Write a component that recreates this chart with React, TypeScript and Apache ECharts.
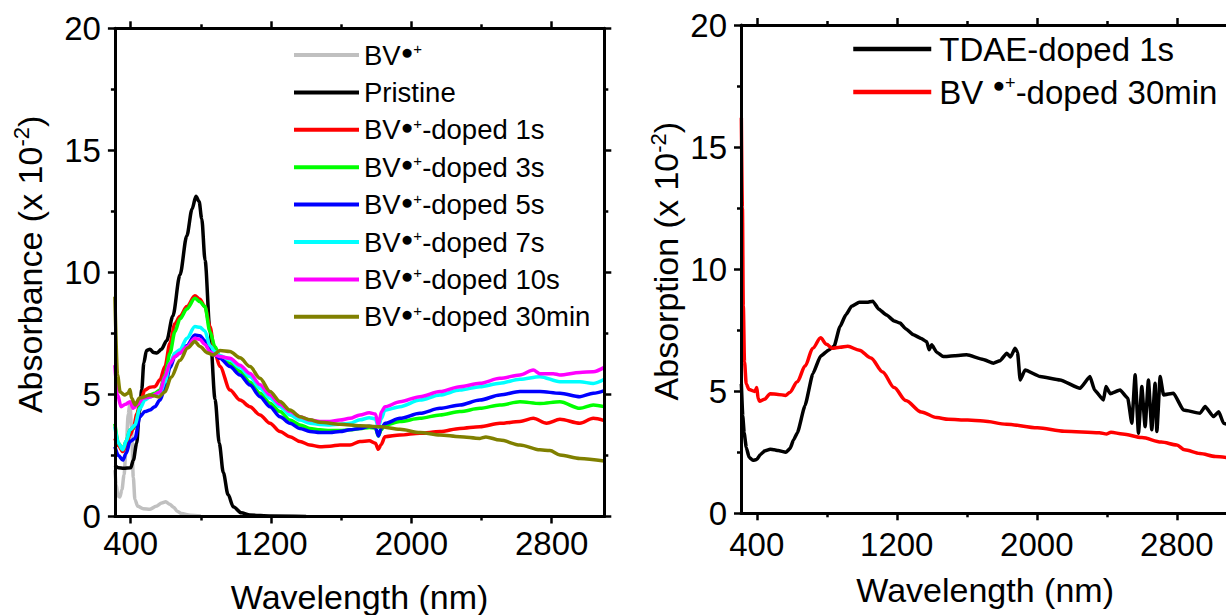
import React, { useEffect, useRef } from "react";
import * as echarts from "echarts";

const FONT = "'Liberation Sans', Arial, Helvetica, sans-serif";

const X_MIN = 310;
const X_MAX = 3100;
const xMajorTicks = [400, 1200, 2000, 2800];
const xMinorTicks = [800, 1600, 2400];
const Y_MIN = 0;
const Y_MAX = 20;
const Y_INTERVAL = 5;

const xTitle = "Wavelength (nm)";
const leftYTitle = "{t|Absorbance (x 10}{s|-2}{t|)}";
const rightYTitle = "{t|Absorption (x 10}{s|-2}{t|)}";

type P = [number, number];

// ---------- Left panel ----------
const bvRadical: P[] = [
  [310, 1.9], [318, 1.3], [326, 0.85], [338, 0.8], [350, 1.1], [362, 1.7], [374, 2.8], [386, 4.2],
  [396, 4.65], [405, 3.6], [415, 1.6], [424, 0.7], [440, 0.42], [472, 0.32], [510, 0.3], [545, 0.42],
  [577, 0.55], [600, 0.6], [622, 0.5], [645, 0.38], [665, 0.22], [690, 0.12], [740, 0.05], [800, 0.02],
];

const pristine: P[] = [
  [310, 2.1], [330, 2.0], [360, 1.98], [400, 2.0], [415, 2.3], [434, 3.0], [450, 4.3], [463, 5.2],
  [475, 6.3], [490, 6.8], [510, 6.85], [530, 6.72], [550, 6.7], [575, 6.85], [605, 7.2], [640, 8.2],
  [681, 9.9], [720, 11.5], [750, 12.6], [772, 13.12], [790, 12.9], [805, 12.2], [824, 10.5], [852, 7.6],
  [881, 4.8], [905, 3.0], [928, 1.8], [955, 0.9], [985, 0.4], [1030, 0.15], [1080, 0.06], [1200, 0.02],
  [1400, 0],
];

const doped1s: P[] = [
  [310, 3.2], [330, 2.9], [355, 2.66], [375, 2.9], [396, 3.34], [415, 3.6], [435, 4.2], [453, 4.64],
  [481, 5.18], [510, 5.3], [538, 5.32], [567, 5.6], [595, 6.14], [624, 7.1], [652, 7.9], [681, 8.2],
  [720, 8.6], [766, 9.04], [795, 8.9], [823, 8.6], [852, 7.78], [880, 6.69], [909, 6.14], [966, 5.18],
  [1023, 4.77], [1080, 4.5], [1137, 4.16], [1194, 3.82], [1251, 3.48], [1308, 3.27], [1365, 3.07],
  [1422, 2.93], [1479, 2.86], [1536, 2.88], [1593, 2.93], [1650, 2.93], [1707, 3.07], [1760, 3.1],
  [1795, 3.0], [1812, 2.75], [1828, 2.95], [1850, 3.27], [1935, 3.34], [2049, 3.41], [2163, 3.48],
  [2277, 3.61], [2391, 3.68], [2505, 3.82], [2619, 3.89], [2695, 4.02], [2771, 3.82], [2847, 3.98],
  [2961, 3.82], [3037, 4.02], [3100, 3.93],
];

const doped3s: P[] = [
  [310, 3.8], [330, 3.0], [355, 2.75], [375, 3.1], [396, 3.55], [424, 3.7], [453, 4.5], [481, 4.9],
  [510, 4.98], [538, 5.05], [567, 5.18], [595, 5.8], [624, 6.69], [652, 7.57], [681, 8.1], [720, 8.5],
  [766, 8.94], [795, 8.8], [823, 8.6], [852, 7.57], [880, 6.96], [909, 6.55], [966, 6.27], [1023, 5.95],
  [1080, 5.5], [1137, 5.05], [1194, 4.64], [1251, 4.3], [1308, 3.95], [1365, 3.75], [1422, 3.61],
  [1479, 3.55], [1536, 3.52], [1593, 3.52], [1650, 3.55], [1707, 3.6], [1760, 3.65], [1795, 3.62],
  [1812, 3.3], [1828, 3.55], [1850, 3.75], [1935, 3.89], [2049, 4.02], [2163, 4.16], [2277, 4.3],
  [2391, 4.43], [2505, 4.57], [2619, 4.7], [2733, 4.63], [2847, 4.7], [2961, 4.43], [3037, 4.57],
  [3100, 4.5],
];

const doped5s: P[] = [
  [310, 2.86], [330, 2.5], [355, 2.31], [375, 2.6], [396, 3.07], [424, 3.2], [453, 4.09], [481, 4.3],
  [510, 4.36], [538, 4.5], [567, 4.77], [595, 5.25], [624, 6.1], [652, 6.55], [681, 6.7], [720, 7.0],
  [766, 7.44], [795, 7.4], [823, 7.2], [852, 6.8], [880, 6.62], [909, 6.48], [966, 6.14], [1023, 5.8],
  [1080, 5.39], [1137, 4.91], [1194, 4.5], [1251, 4.09], [1308, 3.82], [1365, 3.61], [1422, 3.48],
  [1479, 3.44], [1536, 3.44], [1593, 3.48], [1650, 3.55], [1707, 3.61], [1760, 3.7], [1795, 3.65],
  [1812, 3.3], [1828, 3.6], [1850, 3.82], [1935, 4.02], [2049, 4.23], [2163, 4.43], [2277, 4.57],
  [2391, 4.77], [2505, 4.98], [2619, 5.12], [2733, 5.12], [2847, 5.05], [2961, 4.91], [3037, 5.05],
  [3100, 5.16],
];

const doped7s: P[] = [
  [310, 3.68], [330, 3.0], [355, 2.73], [375, 3.1], [396, 3.55], [424, 3.75], [453, 4.43], [481, 4.77],
  [510, 4.9], [538, 4.98], [567, 5.05], [595, 5.5], [624, 6.27], [652, 6.7], [681, 6.83], [720, 7.3],
  [766, 7.78], [795, 7.75], [823, 7.6], [852, 7.0], [880, 6.75], [909, 6.6], [966, 6.41], [1023, 6.1],
  [1080, 5.73], [1137, 5.25], [1194, 4.84], [1251, 4.5], [1308, 4.16], [1365, 3.95], [1422, 3.82],
  [1479, 3.77], [1536, 3.75], [1593, 3.78], [1650, 3.82], [1707, 3.96], [1760, 4.05], [1795, 4.0],
  [1812, 3.65], [1828, 4.0], [1850, 4.36], [1935, 4.5], [2049, 4.77], [2163, 4.98], [2277, 5.18],
  [2391, 5.32], [2505, 5.46], [2619, 5.62], [2733, 5.73], [2847, 5.52], [2961, 5.52], [3037, 5.45],
  [3100, 5.62],
];

const doped10s: P[] = [
  [310, 6.2], [325, 5.0], [345, 4.5], [370, 4.6], [396, 4.7], [415, 4.43], [440, 4.6], [470, 4.85],
  [510, 4.9], [567, 5.1], [595, 5.73], [624, 6.27], [652, 6.55], [681, 6.7], [720, 6.95], [766, 7.3],
  [795, 7.25], [823, 7.05], [852, 6.75], [880, 6.62], [909, 6.55], [966, 6.48], [1023, 6.2], [1080, 5.86],
  [1137, 5.4], [1194, 4.98], [1251, 4.6], [1308, 4.3], [1365, 4.09], [1422, 3.95], [1479, 3.89],
  [1536, 3.89], [1593, 3.95], [1650, 4.02], [1707, 4.16], [1760, 4.25], [1795, 4.2], [1812, 3.75],
  [1830, 4.3], [1850, 4.5], [1935, 4.7], [2049, 4.91], [2163, 5.12], [2277, 5.32], [2391, 5.46],
  [2505, 5.66], [2619, 5.8], [2695, 6.0], [2733, 5.85], [2809, 5.85], [2847, 5.8], [2961, 5.9],
  [3037, 5.93], [3100, 6.11],
];

const doped30min: P[] = [
  [310, 9.0], [325, 5.8], [340, 5.1], [365, 4.98], [385, 5.05], [396, 5.2], [405, 4.85], [425, 4.57],
  [450, 4.85], [510, 4.98], [560, 4.9], [595, 5.1], [630, 5.7], [681, 6.4], [725, 6.9], [766, 7.17],
  [795, 6.96], [840, 6.7], [870, 6.62], [909, 6.8], [966, 6.76], [1023, 6.5], [1080, 6.14], [1137, 5.66],
  [1194, 5.12], [1251, 4.71], [1308, 4.36], [1365, 4.09], [1422, 3.96], [1479, 3.86], [1593, 3.78],
  [1707, 3.72], [1821, 3.68], [1935, 3.57], [2049, 3.44], [2163, 3.34], [2277, 3.27], [2391, 3.2],
  [2425, 3.26], [2505, 3.13], [2619, 2.93], [2733, 2.73], [2790, 2.7], [2847, 2.52], [2961, 2.38],
  [3100, 2.27],
];

// ---------- Right panel ----------
const tdae1s: P[] = [
  [312, 5.3], [320, 4.0], [328, 3.3], [340, 2.7], [356, 2.3], [378, 2.17], [400, 2.2], [420, 2.4],
  [444, 2.55], [477, 2.62], [500, 2.6], [522, 2.57], [566, 2.5], [590, 2.65], [610, 3.0], [632, 3.3],
  [676, 4.42], [720, 5.71], [765, 6.44], [810, 6.68], [842, 6.84], [875, 7.64], [909, 8.13], [942, 8.48],
  [986, 8.64], [1030, 8.64], [1063, 8.69], [1096, 8.37], [1140, 8.13], [1185, 7.88], [1219, 7.79],
  [1251, 7.56], [1295, 7.31], [1340, 7.16], [1371, 7.03], [1385, 6.7], [1400, 6.9], [1428, 6.6],
  [1466, 6.42], [1530, 6.45], [1600, 6.49], [1694, 6.3], [1752, 6.15], [1790, 6.25], [1829, 6.56],
  [1850, 6.4], [1876, 6.76], [1890, 6.6], [1905, 5.46], [1933, 5.87], [2019, 5.6], [2133, 5.46],
  [2247, 5.12], [2304, 5.6], [2330, 5.05], [2381, 4.64], [2395, 5.19], [2420, 4.9], [2476, 5.05],
  [2520, 4.71], [2543, 3.69], [2562, 5.67], [2581, 3.28], [2600, 5.19], [2619, 3.55], [2638, 5.46],
  [2657, 3.42], [2676, 5.33], [2686, 3.35], [2705, 5.6], [2724, 4.85], [2781, 4.92], [2838, 4.23],
  [2933, 4.1], [2962, 4.37], [3009, 3.96], [3040, 4.16], [3067, 3.69], [3100, 3.6],
];

const bvDoped30minR: P[] = [
  [312, 16.2], [318, 12.5], [323, 8.5], [330, 6.2], [340, 5.3], [356, 5.07], [389, 4.99], [400, 5.15],
  [408, 4.7], [416, 4.59], [444, 4.67], [477, 4.9], [522, 4.87], [566, 4.83], [588, 4.95], [632, 5.39],
  [676, 6.03], [720, 6.76], [765, 7.19], [798, 6.92], [831, 6.76], [875, 6.8], [920, 6.84], [986, 6.68],
  [1052, 6.36], [1119, 5.79], [1185, 5.15], [1251, 4.62], [1340, 4.15], [1428, 3.92], [1495, 3.85],
  [1605, 3.82], [1694, 3.78], [1827, 3.65], [2004, 3.5], [2158, 3.36], [2357, 3.3], [2400, 3.25],
  [2424, 3.32], [2490, 3.25], [2601, 3.1], [2711, 2.92], [2800, 2.8], [2844, 2.6], [2932, 2.45],
  [3021, 2.33], [3100, 2.27],
];

const leftNames = [
  "BV●+", "Pristine", "BV●+-doped 1s", "BV●+-doped 3s", "BV●+-doped 5s",
  "BV●+-doped 7s", "BV●+-doped 10s", "BV●+-doped 30min",
];
const leftColors = ["#c0c0c0", "#000000", "#ff0000", "#00ff00", "#0000ff", "#00ffff", "#ff00ff", "#808000"];
const leftData = [bvRadical, pristine, doped1s, doped3s, doped5s, doped7s, doped10s, doped30min];

const rightNames = ["TDAE-doped 1s", "BV ●+-doped 30min"];
const rightColors = ["#000000", "#ff0000"];
const rightData = [tdae1s, bvDoped30minR];

const legendFormatter = (name: string) => {
  const i = name.indexOf("●+");
  if (i < 0) return `{t|${name}}`;
  return `{t|${name.slice(0, i)}}{b|●}{p|+}{t|${name.slice(i + 2)}}`;
};

function buildOption() {
  const grids = [
    { left: 114.9, top: 28.3, width: 489.4, height: 488.2, outerBoundsMode: "none", containLabel: false },
    { left: 741, top: 25, width: 488.3, height: 488.3, outerBoundsMode: "none", containLabel: false },
  ];
  const axisLineStyle = { color: "#000", width: 3 };
  const tickLine = { color: "#000", width: 2.5 };
  const xLabelMargins = [10.5, 14.5];
  const xNameGaps = [63, 60];
  const yNameGaps = [66, 56];
  const yTitles = [leftYTitle, rightYTitle];

  const xAxis: any[] = [];
  const yAxis: any[] = [];
  for (let g = 0; g < 2; g++) {
    const base = {
      type: "value", gridIndex: g, min: X_MIN, max: X_MAX,
      splitLine: { show: false },
    };
    xAxis.push({
      ...base, position: "bottom",
      axisLine: { show: true, onZero: false, lineStyle: axisLineStyle },
      axisTick: { show: true, inside: false, length: 7, customValues: xMajorTicks, lineStyle: tickLine },
      axisLabel: {
        show: true, customValues: xMajorTicks, margin: xLabelMargins[g],
        color: "#000", fontSize: 33, fontFamily: FONT,
        formatter: (v: number) => String(v),
      },
      name: xTitle, nameLocation: "middle", nameGap: xNameGaps[g],
      nameTextStyle: { color: "#000", fontSize: 34, fontFamily: FONT, lineHeight: 34 },
      z: 5,
    });
    xAxis.push({
      ...base, position: "bottom",
      axisLine: { show: false, onZero: false },
      axisTick: { show: true, inside: false, length: 4, customValues: xMinorTicks, lineStyle: tickLine },
      axisLabel: { show: false },
    });
    xAxis.push({
      ...base, position: "top",
      axisLine: { show: true, onZero: false, lineStyle: axisLineStyle },
      axisTick: { show: true, inside: false, length: 7, customValues: xMajorTicks, lineStyle: tickLine },
      axisLabel: { show: false },
      z: 5,
    });
    xAxis.push({
      ...base, position: "top",
      axisLine: { show: false, onZero: false },
      axisTick: { show: true, inside: false, length: 4, customValues: xMinorTicks, lineStyle: tickLine },
      axisLabel: { show: false },
    });

    const ybase = {
      type: "value", gridIndex: g, min: Y_MIN, max: Y_MAX, interval: Y_INTERVAL,
      splitLine: { show: false },
      minorSplitLine: { show: false },
      axisTick: { show: true, inside: false, length: 7, lineStyle: tickLine },
      minorTick: { show: true, splitNumber: 2, length: 4, lineStyle: tickLine },
      axisLine: { show: true, onZero: false, lineStyle: axisLineStyle },
      z: 5,
    };
    yAxis.push({
      ...ybase, position: "left",
      axisLabel: { show: true, margin: 14, color: "#000", fontSize: 33, fontFamily: FONT },
      name: yTitles[g], nameLocation: "middle", nameGap: yNameGaps[g],
      nameTextStyle: {
        color: "#000", fontSize: 34, fontFamily: FONT, padding: [0, 0, 0, 16],
        rich: {
          t: { fontSize: 34, fontFamily: FONT, color: "#000", lineHeight: 38 },
          s: { fontSize: 22, fontFamily: FONT, color: "#000", lineHeight: 22, verticalAlign: "top" },
        },
      },
    });
    yAxis.push({
      ...ybase, position: "right",
      axisLabel: { show: false },
    });
  }

  const series: any[] = [];
  leftNames.forEach((name, i) => {
    series.push({
      type: "line", name, data: leftData[i], xAxisIndex: 0, yAxisIndex: 0,
      symbol: "none", showSymbol: false, smooth: 0.3, smoothMonotone: "x",
      lineStyle: { color: leftColors[i], width: 3.5 }, itemStyle: { color: leftColors[i] },
      z: 2,
    });
  });
  rightNames.forEach((name, i) => {
    series.push({
      type: "line", name, data: rightData[i], xAxisIndex: 4, yAxisIndex: 2,
      symbol: "none", showSymbol: false, smooth: i === 0 ? 0.15 : 0.3, smoothMonotone: "x",
      lineStyle: { color: rightColors[i], width: 3.5 }, itemStyle: { color: rightColors[i] },
      z: 2,
    });
  });

  const legend = [
    {
      data: leftNames, orient: "vertical", left: 292, top: 41, padding: 0,
      itemWidth: 65, itemHeight: 28, itemGap: 9.4, selectedMode: false,
      lineStyle: { width: 4 },
      itemStyle: { opacity: 0 },
      formatter: legendFormatter,
      textStyle: {
        color: "#000", fontSize: 27.5, fontFamily: FONT, padding: 0,
        rich: {
          t: { fontSize: 27.5, fontFamily: FONT, color: "#000", lineHeight: 28 },
          b: { fontSize: 21, fontFamily: FONT, color: "#000", lineHeight: 8, verticalAlign: "top" },
          p: { fontSize: 15, fontFamily: FONT, color: "#000", lineHeight: 10, verticalAlign: "top" },
        },
      },
    },
    {
      data: rightNames, orient: "vertical", left: 851, top: 32.5, padding: 0,
      itemWidth: 78, itemHeight: 36, itemGap: 8.5, selectedMode: false,
      lineStyle: { width: 4.5 },
      itemStyle: { opacity: 0 },
      formatter: legendFormatter,
      textStyle: {
        color: "#000", fontSize: 33, fontFamily: FONT, padding: [0, 0, 0, 3],
        rich: {
          t: { fontSize: 33, fontFamily: FONT, color: "#000", lineHeight: 36 },
          b: { fontSize: 21, fontFamily: FONT, color: "#000", lineHeight: 11, verticalAlign: "top" },
          p: { fontSize: 18, fontFamily: FONT, color: "#000", lineHeight: 13, verticalAlign: "top" },
        },
      },
    },
  ];

  return {
    animation: false,
    backgroundColor: "#ffffff",
    textStyle: { fontFamily: FONT },
    grid: grids,
    xAxis,
    yAxis,
    legend,
    series,
  };
}

export default function App() {
  const ref = useRef<HTMLDivElement>(null);
  useEffect(() => {
    if (!ref.current) return;
    const chart = echarts.init(ref.current, undefined, { renderer: "svg" });
    chart.setOption(buildOption() as any);
    return () => chart.dispose();
  }, []);
  return (
    <div
      ref={ref}
      style={{ position: "fixed", left: 0, top: 0, width: 1226, height: 615, background: "#fff" }}
    />
  );
}
